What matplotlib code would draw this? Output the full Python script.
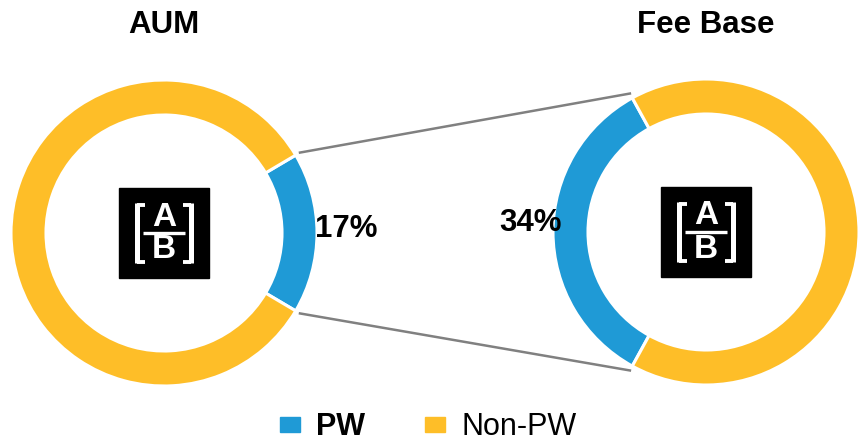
import numpy as np
import matplotlib.pyplot as plt
from matplotlib.patches import Rectangle

plt.rcParams['font.family'] = ['Liberation Sans', 'DejaVu Sans']

# data
titles = ['AUM', 'Fee Base']
pw_share = [17, 34]
labels = ['PW', 'Non-PW']
blue = '#1F9AD6'
yellow = '#FEBE28'

fig = plt.figure(figsize=(8.58, 4.42), dpi=100)
ax = fig.add_axes([0, 0, 1, 1])

centers = [(164, 209), (706, 210)]
R = 153
W = 35

wedges_all = []
for i in range(2):
    v = pw_share[i]
    if i == 0:
        start = -v / 100 * 180
    else:
        start = 180 - v / 100 * 180
    wedges, _ = ax.pie([v, 100 - v], colors=[blue, yellow], startangle=start,
                       counterclock=True, center=centers[i], radius=R,
                       wedgeprops=dict(width=W, edgecolor='white', linewidth=2.2))
    wedges_all.append(wedges)
    cx, cy = centers[i]
    ax.text(cx, 417, titles[i], ha='center', va='center', fontsize=22.5, fontweight='bold')

    # logo
    ax.add_patch(Rectangle((cx - 45, cy - 45), 90, 90, color='black', zorder=3))
    for s in [-1, 1]:
        bx = cx + s * 27
        ax.plot([bx, bx], [cy - 30, cy + 30], color='white', lw=3.6, solid_capstyle='butt', zorder=4)
        ax.plot([bx, bx - s * 8], [cy + 28.5, cy + 28.5], color='white', lw=2.8, solid_capstyle='butt', zorder=4)
        ax.plot([bx, bx - s * 8], [cy - 28.5, cy - 28.5], color='white', lw=2.8, solid_capstyle='butt', zorder=4)
    ax.plot([cx - 21, cx + 21], [cy, cy], color='white', lw=2.4, solid_capstyle='butt', zorder=4)
    ax.text(cx, cy + 16, 'A', color='white', ha='center', va='center', fontsize=24, fontweight='bold', zorder=5)
    ax.text(cx, cy - 17, 'B', color='white', ha='center', va='center', fontsize=24, fontweight='bold', zorder=5)

ax.text(346, 213, f'{pw_share[0]}%', ha='center', va='center', fontsize=22.5, fontweight='bold')
ax.text(531, 219, f'{pw_share[1]}%', ha='center', va='center', fontsize=22.5, fontweight='bold')

# connector lines between the PW wedges
wl = wedges_all[0][0]
wr = wedges_all[1][0]
r_off = R + 5
def pt(c, ang):
    a = np.deg2rad(ang)
    return c[0] + r_off * np.cos(a), c[1] + r_off * np.sin(a)
p1 = pt(centers[0], wl.theta2)
p2 = pt(centers[1], wr.theta1)
p3 = pt(centers[0], wl.theta1)
p4 = pt(centers[1], wr.theta2)
ax.plot([p1[0], p2[0]], [p1[1], p2[1]], color='#808080', lw=1.8)
ax.plot([p3[0], p4[0]], [p3[1], p4[1]], color='#808080', lw=1.8)

# legend
leg_x = [280, 425]
for j, lab in enumerate(labels):
    ax.add_patch(Rectangle((leg_x[j], 10), 20, 15, color=[blue, yellow][j]))
    ax.text(leg_x[j] + 36, 7, lab, ha='left', va='baseline', fontsize=22,
            fontweight='bold' if j == 0 else 'normal')

ax.set_xlim(0, 858)
ax.set_ylim(0, 442)
ax.set_aspect('equal')
ax.axis('off')

fig.savefig('out.png', dpi=100)
